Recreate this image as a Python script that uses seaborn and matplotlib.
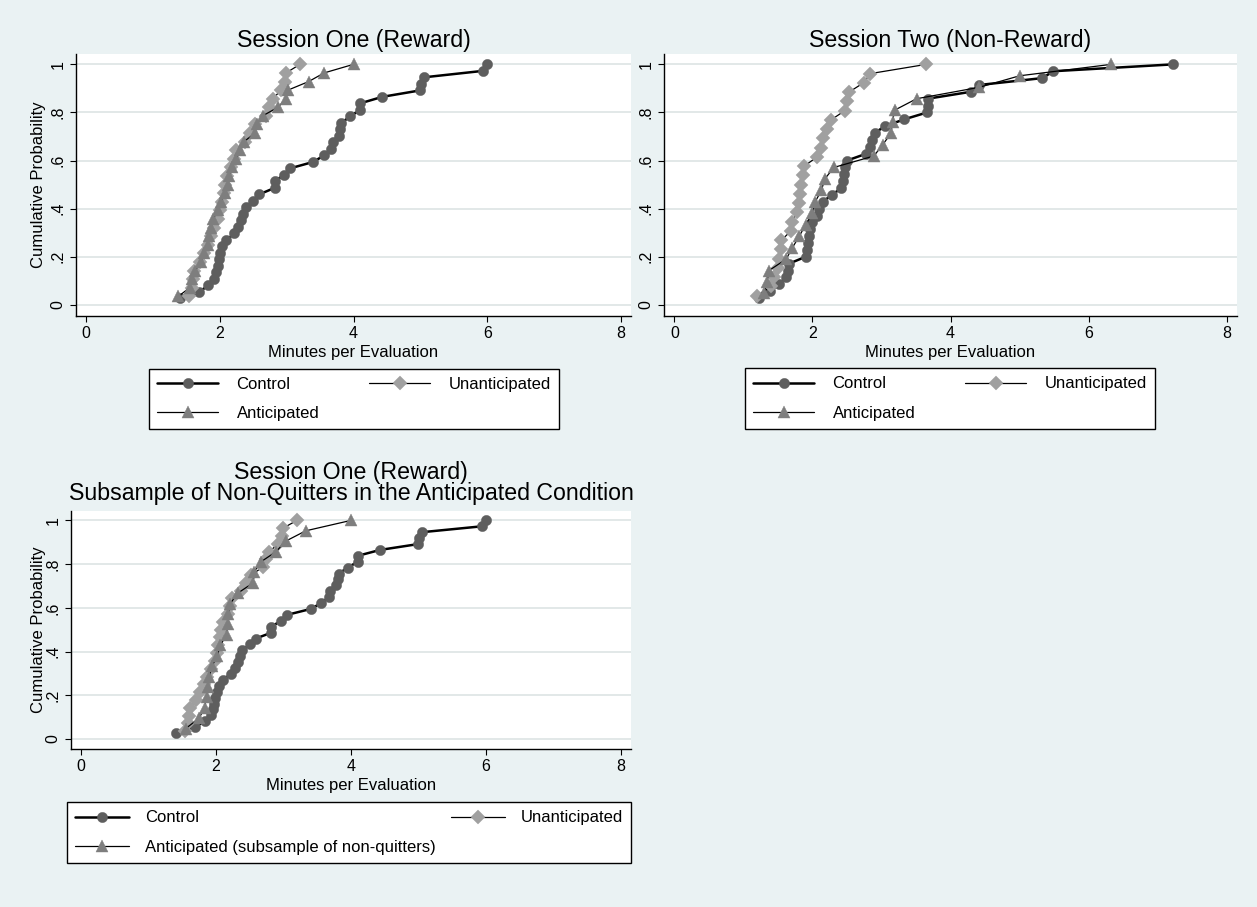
import numpy as np
import pandas as pd
import matplotlib
matplotlib.use("Agg")
import matplotlib.pyplot as plt
import seaborn as sns
from matplotlib.lines import Line2D

# ---------------- data: minutes per evaluation (one value per participant) ----------------
s1_control = [1.40, 1.69, 1.83, 1.92, 1.95, 1.97, 1.99, 2.01, 2.04, 2.10,
              2.22, 2.28, 2.32, 2.35, 2.39, 2.50, 2.59, 2.82, 2.82, 2.96,
              3.05, 3.40, 3.56, 3.67, 3.69, 3.78, 3.80, 3.82, 3.95, 4.10,
              4.10, 4.43, 5.00, 5.01, 5.05, 5.94, 6.00]
s1_unanticipated = [1.54, 1.58, 1.60, 1.62, 1.70, 1.76, 1.82, 1.87, 1.92, 1.98,
                    2.01, 2.03, 2.06, 2.08, 2.11, 2.17, 2.21, 2.24, 2.37, 2.45,
                    2.52, 2.69, 2.74, 2.79, 2.92, 2.97, 2.99, 3.20]
s1_anticipated = [1.38, 1.55, 1.58, 1.63, 1.72, 1.76, 1.82, 1.84, 1.87, 1.90,
                  1.97, 2.02, 2.08, 2.12, 2.14, 2.18, 2.25, 2.30, 2.36, 2.53,
                  2.55, 2.64, 2.87, 2.99, 3.02, 3.33, 3.56, 4.00]
s2_control = [1.22, 1.38, 1.52, 1.61, 1.64, 1.66, 1.90, 1.92, 1.93, 1.95,
              1.97, 2.00, 2.06, 2.10, 2.15, 2.28, 2.42, 2.44, 2.46, 2.47,
              2.50, 2.78, 2.83, 2.87, 2.90, 3.05, 3.33, 3.66, 3.67, 3.67,
              4.29, 4.42, 5.33, 5.49, 7.23]
s2_unanticipated = [1.20, 1.40, 1.45, 1.50, 1.52, 1.54, 1.55, 1.69, 1.71, 1.77,
                    1.81, 1.82, 1.83, 1.87, 1.88, 2.07, 2.12, 2.16, 2.21, 2.27,
                    2.47, 2.50, 2.53, 2.74, 2.84, 3.65]
s2_anticipated = [1.30, 1.34, 1.37, 1.62, 1.71, 1.81, 1.90, 2.00, 2.04, 2.13,
                  2.18, 2.31, 2.89, 3.02, 3.14, 3.16, 3.19, 3.51, 4.42, 5.00, 6.33]
sub_anticipated = [1.55, 1.75, 1.83, 1.86, 1.88, 1.90, 1.94, 2.02, 2.06, 2.16,
                   2.17, 2.18, 2.21, 2.32, 2.55, 2.56, 2.66, 2.89, 3.03, 3.33, 4.00]

labels_main = ["Control", "Unanticipated", "Anticipated"]
labels_sub = ["Control", "Unanticipated", "Anticipated (subsample of non-quitters)"]
title_tl = "Session One (Reward)"
title_tr = "Session Two (Non-Reward)"
title_b1 = "Session One (Reward)"
title_b2 = "Subsample of Non-Quitters in the Anticipated Condition"
x_label = "Minutes per Evaluation"
y_label = "Cumulative Probability"
x_ticks = [0, 2, 4, 6, 8]
y_ticks = [0, 0.2, 0.4, 0.6, 0.8, 1.0]
y_tick_labels = ["0", ".2", ".4", ".6", ".8", "1"]

# ---------------- styles ----------------
sns.set_theme(style="white")
plt.rcParams["font.family"] = ["Liberation Sans", "DejaVu Sans"]

BG = "#EAF2F3"
GRID = "#E2E8E8"
styles = [
    dict(marker="o", ms=7.4, mc="#5E5E5E", lw=1.8),
    dict(marker="D", ms=6.8, mc="#A0A0A0", lw=0.9),
    dict(marker="^", ms=8.6, mc="#7E7E7E", lw=0.9),
]

W, H = 1257, 907
fig = plt.figure(figsize=(W / 100, H / 100), dpi=100, facecolor=BG)


def ecdf_frame(groups):
    parts = []
    for name, vals in groups:
        v = np.sort(np.asarray(vals, dtype=float))
        n = len(v)
        parts.append(pd.DataFrame({"group": name, "minutes": v,
                                   "cumprob": np.arange(1, n + 1) / n}))
    return pd.concat(parts, ignore_index=True)


def px_axes(left, top, right, bottom):
    return fig.add_axes([left / W, 1 - bottom / H, (right - left) / W, (bottom - top) / H])


def draw_panel(ax, df, labels, show_ylabel, ylab_x):
    ax.set_facecolor("white")
    ax.set_axisbelow(True)
    for lab, st in zip(labels, styles):
        sub = df[df["group"] == lab]
        sns.lineplot(data=sub, x="minutes", y="cumprob", estimator=None, sort=False,
                     ax=ax, legend=False, color="black", linewidth=st["lw"],
                     marker=st["marker"], markersize=st["ms"],
                     markerfacecolor=st["mc"], markeredgecolor=st["mc"],
                     markeredgewidth=0.3)
    ax.set_xlim(-0.15, 8.15)
    ax.set_ylim(-0.046, 1.043)
    ax.set_xticks(x_ticks)
    ax.set_xticklabels([str(t) for t in x_ticks])
    ax.set_yticks(y_ticks)
    ax.set_yticklabels(y_tick_labels, rotation=90, va="center")
    ax.grid(False)
    ax.yaxis.grid(True, color=GRID, linewidth=1.4)
    for s in ["top", "right"]:
        ax.spines[s].set_visible(False)
    for s in ["left", "bottom"]:
        ax.spines[s].set_color("black")
        ax.spines[s].set_linewidth(1.0)
    ax.tick_params(axis="both", length=4.3, width=0.8, color="black",
                   labelsize=11.5, labelcolor="black", direction="out",
                   left=True, bottom=True)
    ax.tick_params(axis="x", pad=3)
    ax.tick_params(axis="y", pad=3)
    ax.set_xlabel(x_label, fontsize=12, labelpad=3, color="black")
    if show_ylabel:
        ax.set_ylabel(y_label, fontsize=12, color="black")
        ax.yaxis.label.set_va("center")
        ax.yaxis.set_label_coords(ylab_x, 0.5)
    else:
        ax.set_ylabel("")


def add_legend(labels, cx, cy, handlelength, handletextpad, columnspacing):
    handles = [Line2D([], [], color="black", lw=st["lw"], marker=st["marker"],
                      markersize=st["ms"], markerfacecolor=st["mc"],
                      markeredgecolor=st["mc"], markeredgewidth=0.3) for st in styles]
    order = [0, 2, 1]
    leg = fig.legend([handles[i] for i in order], [labels[i] for i in order],
                     ncol=2, loc="center", bbox_to_anchor=(cx / W, 1 - cy / H),
                     frameon=True, fancybox=False, shadow=False, edgecolor="black",
                     facecolor="white", framealpha=1, fontsize=12,
                     handlelength=handlelength, handletextpad=handletextpad,
                     columnspacing=columnspacing, labelspacing=0.85, borderpad=0.5,
                     numpoints=1)
    leg.get_frame().set_linewidth(1.0)
    for t in leg.get_texts():
        t.set_color("black")
    return leg


df_s1 = ecdf_frame([("Control", s1_control), ("Unanticipated", s1_unanticipated),
                    ("Anticipated", s1_anticipated)])
df_s2 = ecdf_frame([("Control", s2_control), ("Unanticipated", s2_unanticipated),
                    ("Anticipated", s2_anticipated)])
df_sub = ecdf_frame([("Control", s1_control), ("Unanticipated", s1_unanticipated),
                     ("Anticipated (subsample of non-quitters)", sub_anticipated)])

ax1 = px_axes(76, 54, 631, 316)
draw_panel(ax1, df_s1, labels_main, True, (39 - 76) / 555)
ax2 = px_axes(664, 54, 1237, 316)
draw_panel(ax2, df_s2, labels_main, False, 0)
ax3 = px_axes(71, 511, 631, 749)
draw_panel(ax3, df_sub, labels_sub, True, (39 - 71) / 560)

# titles
fig.text(353.5 / W, 1 - 47 / H, title_tl, ha="center", va="baseline", fontsize=16.7, color="black")
fig.text(950.5 / W, 1 - 47 / H, title_tr, ha="center", va="baseline", fontsize=16.7, color="black")
fig.text(351 / W, 1 - 479 / H, title_b1, ha="center", va="baseline", fontsize=16.7, color="black")
fig.text(351 / W, 1 - 500 / H, title_b2, ha="center", va="baseline", fontsize=16.7, color="black")

# legends
add_legend(labels_main, 354, 399, 3.65, 1.1, 3.0)
add_legend(labels_main, 950, 398.5, 3.65, 1.1, 3.0)
add_legend(labels_sub, 349, 832.5, 3.25, 0.95, 0.9)

fig.savefig("out.png", dpi=100, facecolor=BG)
